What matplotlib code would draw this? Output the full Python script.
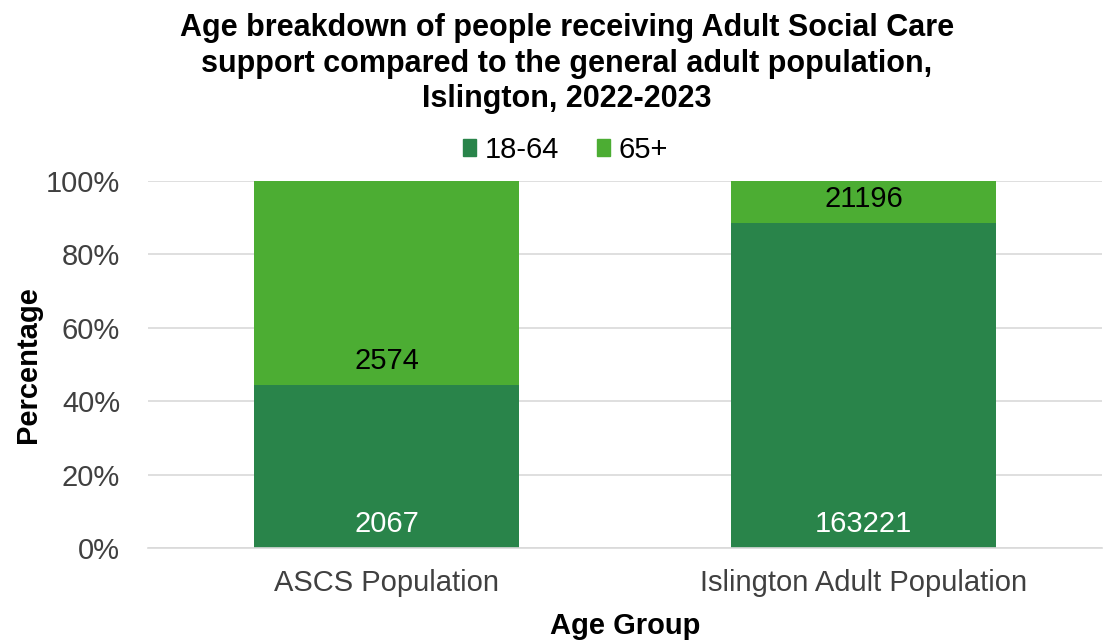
import matplotlib
matplotlib.use("Agg")
import matplotlib.pyplot as plt
from matplotlib.ticker import PercentFormatter
from matplotlib.patches import Patch

plt.rcParams['font.family'] = ['Liberation Sans', 'DejaVu Sans']

categories = ["ASCS Population", "Islington Adult Population"]
series_names = ["18-64", "65+"]
counts_18_64 = [2067, 163221]
counts_65_plus = [2574, 21196]
colors = ["#29844A", "#4CAD33"]
label_colors = ["white", "black"]

totals = [a + b for a, b in zip(counts_18_64, counts_65_plus)]
pct_18_64 = [a / t * 100 for a, t in zip(counts_18_64, totals)]
pct_65_plus = [b / t * 100 for b, t in zip(counts_65_plus, totals)]

fig = plt.figure(figsize=(11.09, 6.40), dpi=100)
ax = fig.add_axes([148/1109, 1-548/640, (1102-148)/1109, (548-181)/640])

x = list(range(len(categories)))
width = 0.555
b1 = ax.bar(x, pct_18_64, width, color=colors[0], zorder=2)
b2 = ax.bar(x, pct_65_plus, width, bottom=pct_18_64, color=colors[1], zorder=2)

for bars, counts, bottoms, lc in [(b1, counts_18_64, [0]*len(x), label_colors[0]),
                                   (b2, counts_65_plus, pct_18_64, label_colors[1])]:
    for rect, c, base in zip(bars, counts, bottoms):
        ax.annotate(str(c), (rect.get_x() + rect.get_width()/2, base),
                    xytext=(0, 11.5), textcoords='offset points',
                    ha='center', va='baseline', fontsize=21, color=lc, zorder=3)

ax.set_xlim(-0.5, len(categories) - 0.5)
ax.set_ylim(0, 100)
ax.set_yticks([0, 20, 40, 60, 80, 100])
ax.yaxis.set_major_formatter(PercentFormatter(decimals=0))
ax.set_xticks(x)
ax.set_xticklabels(categories)
ax.tick_params(axis='both', length=0, labelsize=21, colors='#404040')
ax.tick_params(axis='y', pad=20)
ax.tick_params(axis='x', pad=15)
ax.grid(axis='y', color='#D9D9D9', linewidth=1.2, zorder=0)
for s in ['top', 'right', 'left']:
    ax.spines[s].set_visible(False)
ax.spines['bottom'].set_color('#D9D9D9')
ax.spines['bottom'].set_linewidth(1.2)

ax.set_ylabel("Percentage", fontsize=21, fontweight='bold', labelpad=3)
ax.set_xlabel("Age Group", fontsize=21, fontweight='bold', labelpad=11)

fig.text(0.511, 0.98, "Age breakdown of people receiving Adult Social Care\nsupport compared to the general adult population,\nIslington, 2022-2023",
         ha='center', va='top', fontsize=22, fontweight='bold', linespacing=1.25)

handles = [Patch(color=colors[0]), Patch(color=colors[1])]
fig.legend(handles, series_names, loc='center', bbox_to_anchor=(0.51, 1-150/640),
           ncol=2, frameon=False, fontsize=21, handlelength=0.45, handleheight=0.5,
           handletextpad=0.3, columnspacing=1.3)

fig.savefig("out.png", dpi=100)
